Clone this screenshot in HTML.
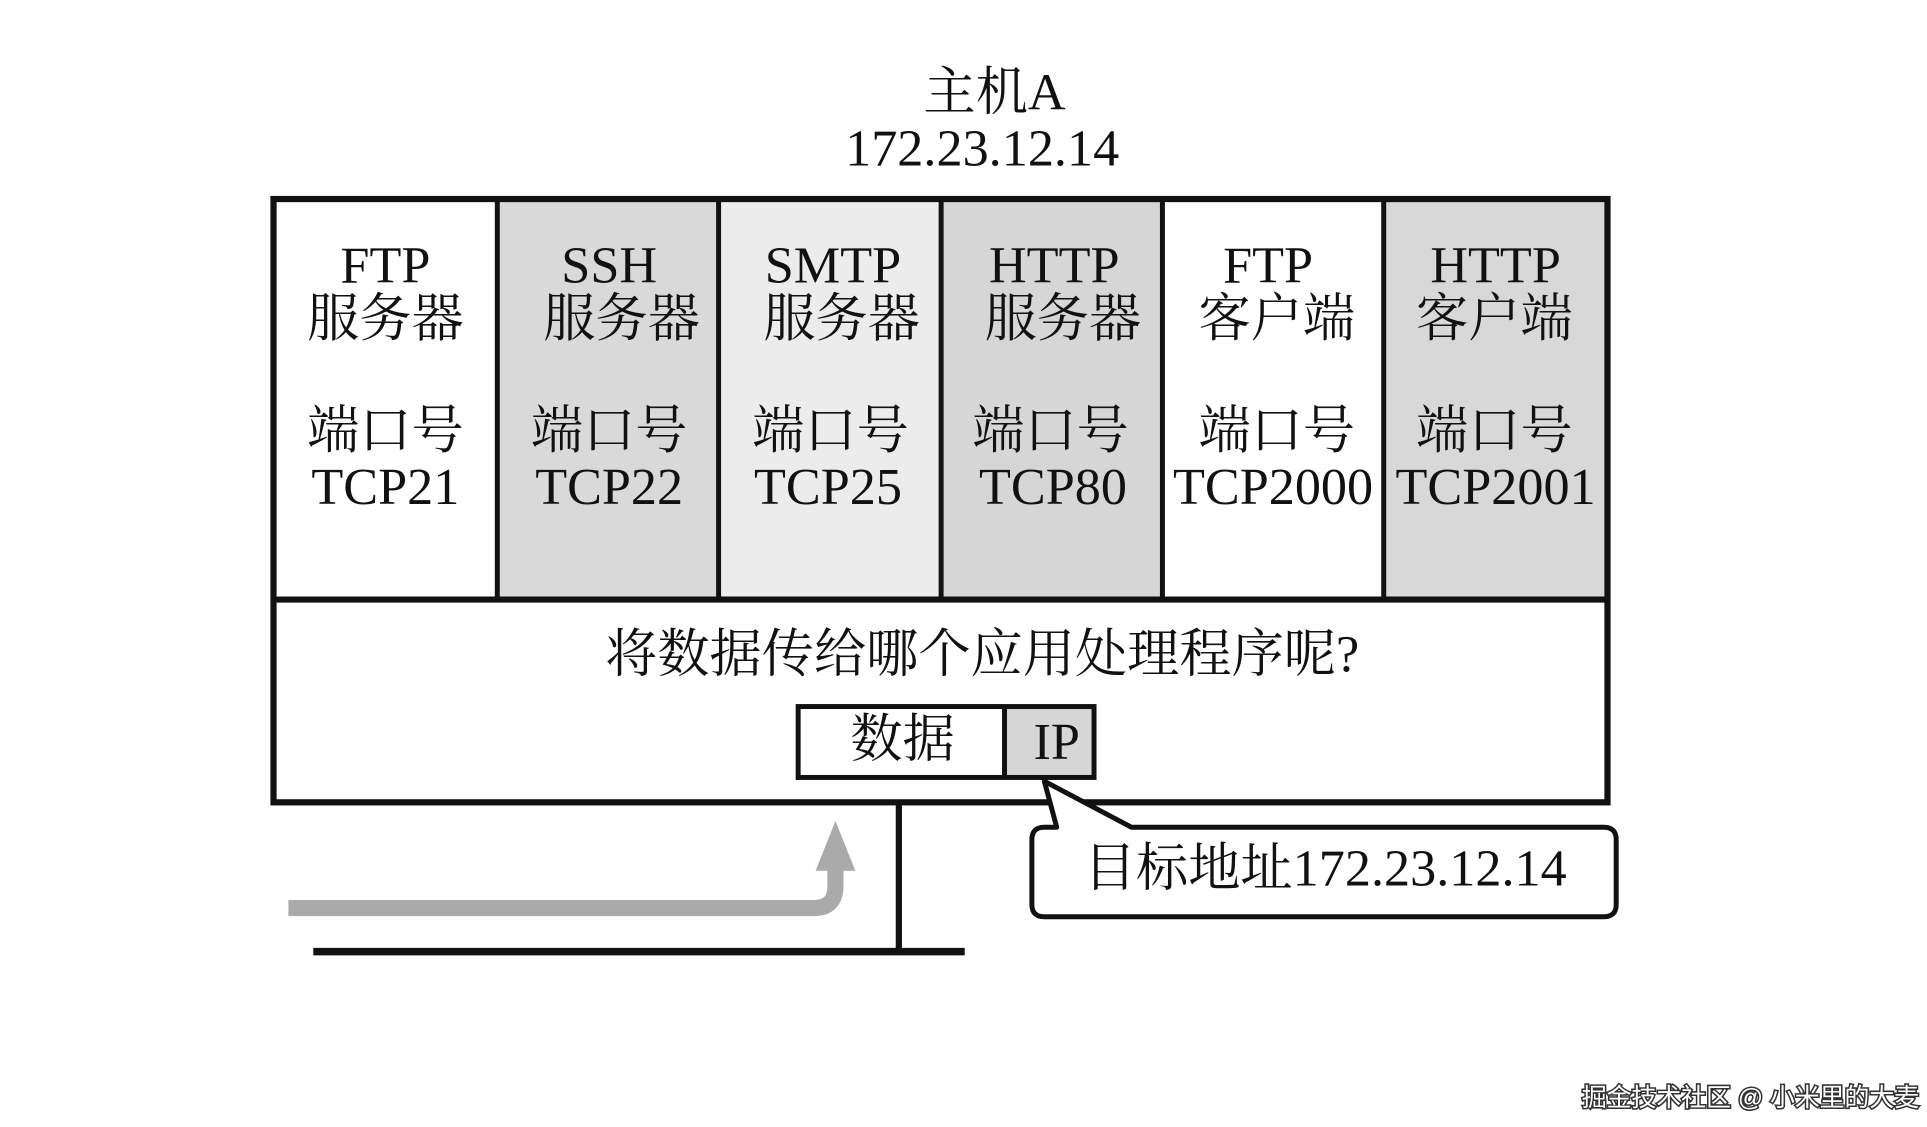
<!DOCTYPE html>
<html><head><meta charset="utf-8"><style>
html,body{margin:0;padding:0;background:#fff;}
svg{display:block;}
text{font-family:"Liberation Serif","Noto Serif CJK SC",serif;fill:#111;}
.c{text-anchor:middle;font-size:42px;}
</style></head><body>
<svg width="1927" height="1127" viewBox="0 0 1550 906" preserveAspectRatio="none" xmlns="http://www.w3.org/2000/svg">
<rect width="1550" height="906" fill="#fff"/>
<text x="800" y="88" class="c" font-size="44">主机A</text>
<text x="790" y="133" class="c" font-size="44">172.23.12.14</text>
<!-- columns -->
<rect x="220" y="160" width="180" height="322" fill="#fff"/>
<rect x="400" y="160" width="178" height="322" fill="#d9d9d9"/>
<rect x="578" y="160" width="179" height="322" fill="#ececec"/>
<rect x="757" y="160" width="178" height="322" fill="#d6d6d6"/>
<rect x="935" y="160" width="178" height="322" fill="#fff"/>
<rect x="1113" y="160" width="180" height="322" fill="#d8d8d8"/>
<rect x="220" y="160" width="1073" height="485" fill="none" stroke="#111" stroke-width="5"/>
<line x1="220" y1="482" x2="1293" y2="482" stroke="#111" stroke-width="5"/>
<g stroke="#111" stroke-width="4">
<line x1="400" y1="160" x2="400" y2="482"/><line x1="578" y1="160" x2="578" y2="482"/>
<line x1="757" y1="160" x2="757" y2="482"/><line x1="935" y1="160" x2="935" y2="482"/>
<line x1="1113" y1="160" x2="1113" y2="482"/>
</g>
<g class="c">
<text x="310" y="227" class="c">FTP</text><text x="310" y="270" class="c">服务器</text><text x="310" y="360" class="c">端口号</text><text x="310" y="405" class="c">TCP21</text>
<text x="490" y="227" class="c">SSH</text><text x="500" y="270" class="c">服务器</text><text x="490" y="360" class="c">端口号</text><text x="490" y="405" class="c">TCP22</text>
<text x="670" y="227" class="c">SMTP</text><text x="677" y="270" class="c">服务器</text><text x="668" y="360" class="c">端口号</text><text x="666" y="405" class="c">TCP25</text>
<text x="848" y="227" class="c">HTTP</text><text x="855" y="270" class="c">服务器</text><text x="845" y="360" class="c">端口号</text><text x="847" y="405" class="c">TCP80</text>
<text x="1020" y="227" class="c">FTP</text><text x="1027" y="270" class="c">客户端</text><text x="1027" y="360" class="c">端口号</text><text x="1024" y="405" class="c">TCP2000</text>
<text x="1203" y="227" class="c">HTTP</text><text x="1202" y="270" class="c">客户端</text><text x="1202" y="360" class="c">端口号</text><text x="1203" y="405" class="c">TCP2001</text>
</g>
<text x="790" y="540" class="c" font-size="40">将数据传给哪个应用处理程序呢?</text>
<rect x="808" y="568" width="72" height="57" fill="#d6d6d6"/>
<rect x="642" y="568" width="238" height="57" fill="none" stroke="#111" stroke-width="4"/>
<line x1="808" y1="568" x2="808" y2="625" stroke="#111" stroke-width="4"/>
<text x="726" y="608" class="c" font-size="40">数据</text>
<text x="850" y="610" class="c" font-size="40">IP</text>
<!-- callout -->
<path d="M850,665 L840,628 L910,665 L1290,665 Q1300,665 1300,675 L1300,727 Q1300,737 1290,737 L840,737 Q830,737 830,727 L830,675 Q830,665 840,665 Z" fill="#fff" stroke="#111" stroke-width="4" stroke-linejoin="round"/>
<text x="1066" y="712" class="c" font-size="40">目标地址172.23.12.14</text>
<!-- lines -->
<line x1="723" y1="645" x2="723" y2="765" stroke="#111" stroke-width="5"/>
<line x1="252" y1="765" x2="776" y2="765" stroke="#111" stroke-width="6"/>
<!-- gray arrow -->
<path d="M232,730 L655,730 Q672,730 672,712 L672,690" fill="none" stroke="#aaa" stroke-width="13"/>
<polygon points="672,660 656,700 688,700" fill="#aaa"/>
<text x="1408" y="889" text-anchor="middle" font-family="Liberation Sans,Noto Sans CJK SC,sans-serif" style="font-family:'Liberation Sans','Noto Sans CJK SC',sans-serif;fill:#fff;stroke:#333;stroke-width:2.5;paint-order:stroke" font-size="20">掘金技术社区 @ 小米里的大麦</text>
</svg>
</body></html>
